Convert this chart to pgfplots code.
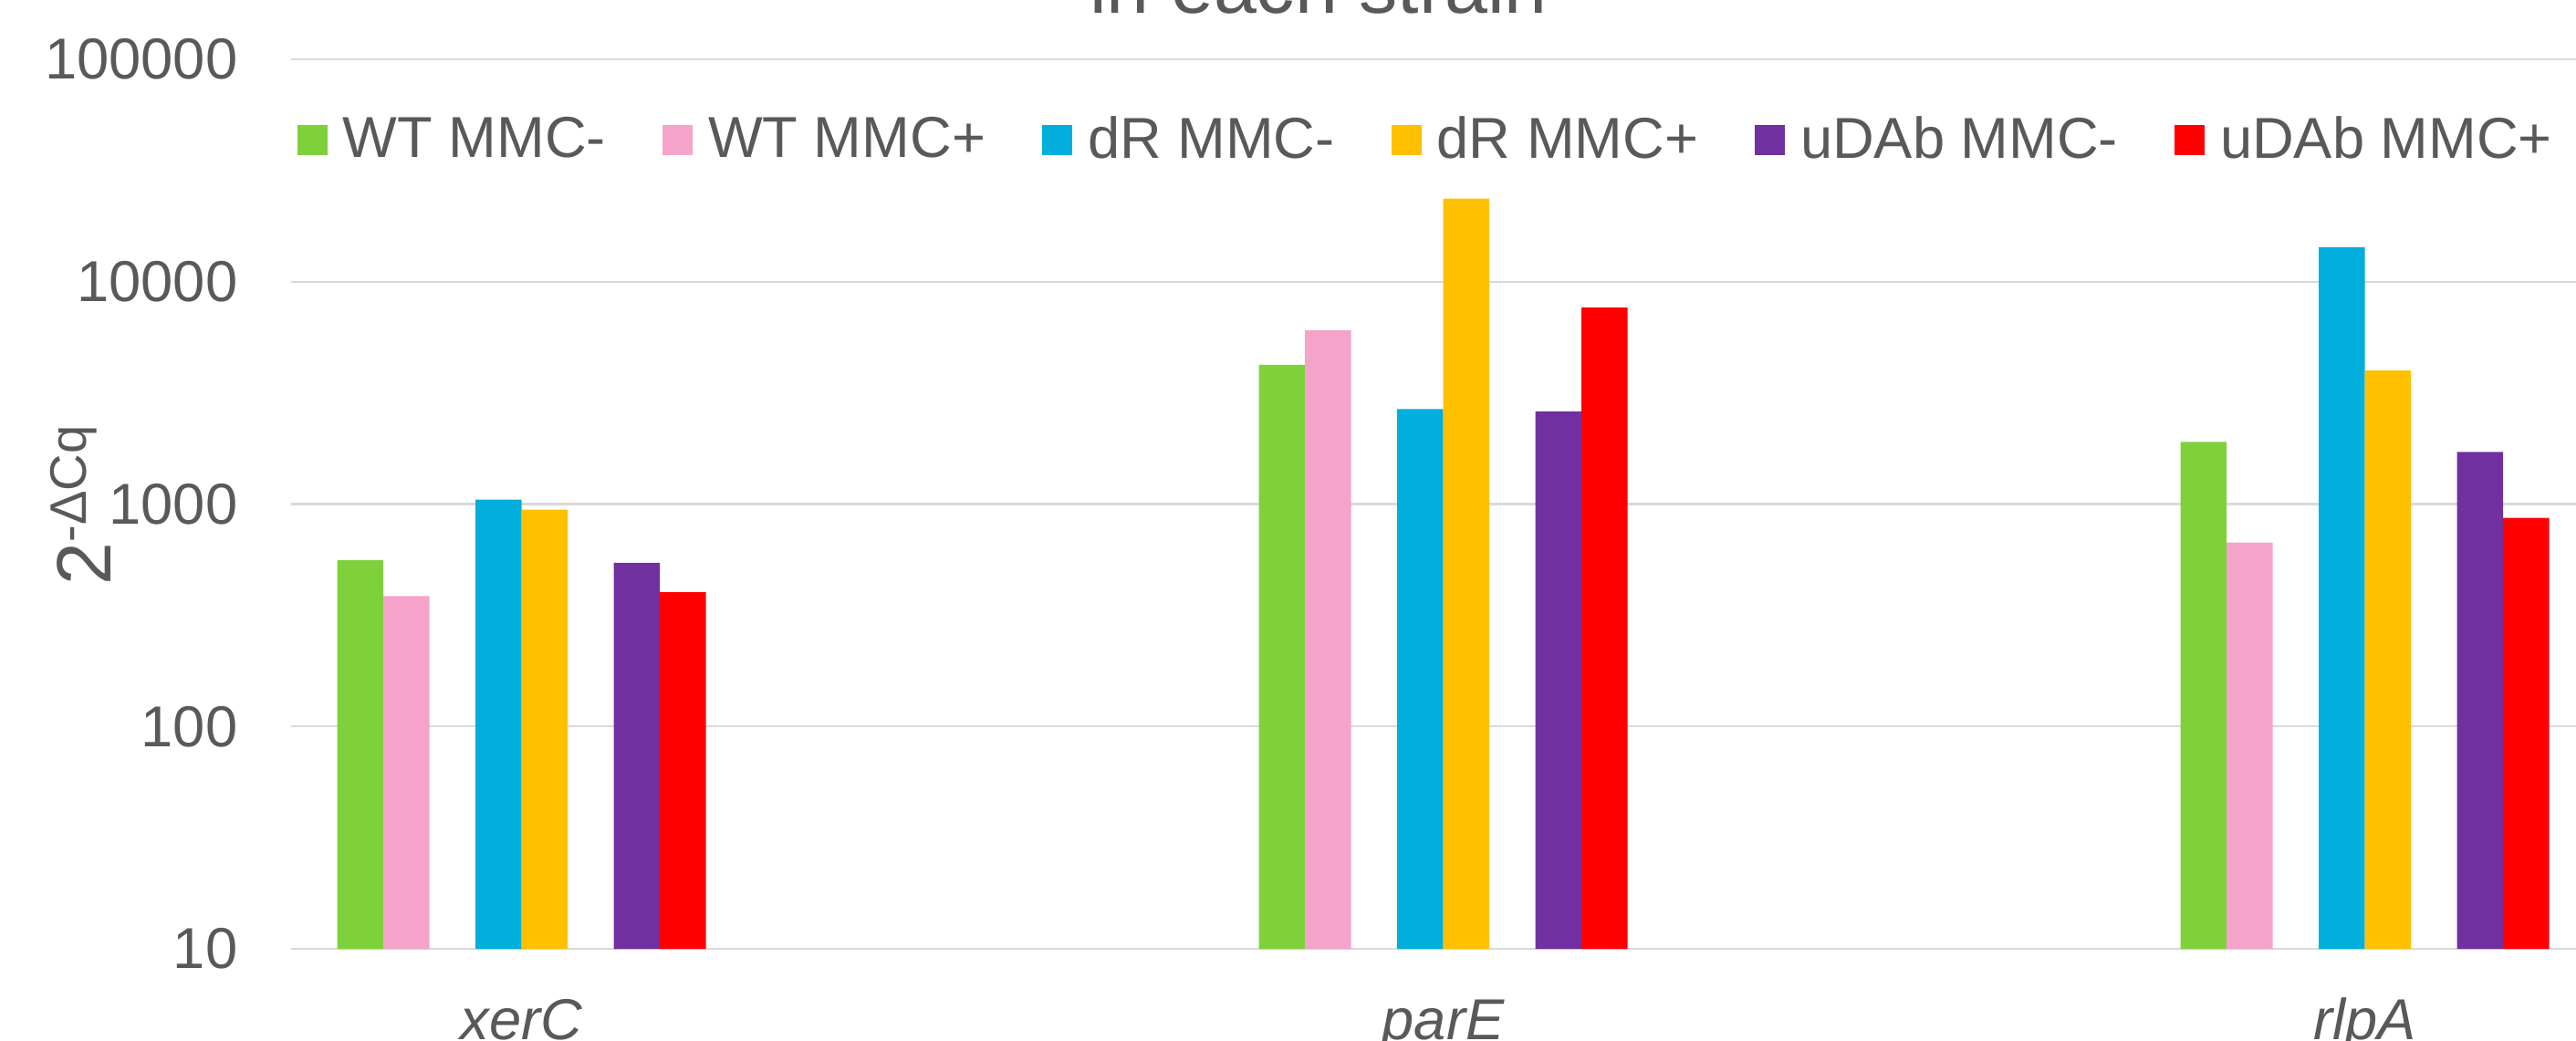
\documentclass[border=0pt]{standalone}
\usepackage{fontspec}
\setmainfont{Liberation Sans}
\usepackage{pgfplots}
\pgfplotsset{compat=1.18}
\definecolor{cGreen}{HTML}{7FD13B}
\definecolor{cPink}{HTML}{F5A3CB}
\definecolor{cBlue}{HTML}{02AEDC}
\definecolor{cYellow}{HTML}{FFC000}
\definecolor{cPurple}{HTML}{7030A0}
\definecolor{cRed}{HTML}{FF0000}
\definecolor{cText}{HTML}{595959}
\definecolor{cGrid}{HTML}{D9D9D9}
\begin{document}
\begin{tikzpicture}
\useasboundingbox (-3.19,-1.00) rectangle (25.04,10.40);
\begin{axis}[
  at={(0,0)}, anchor=south west,
  scale only axis, width=25.25cm, height=9.75cm,
  xmin=-0.25, xmax=2.25,
  ymode=log, ymin=10, ymax=100000,
  log origin=infty,
  ybar, bar width=0.05,
  ytick={10,100,1000,10000,100000},
  yticklabels={10,100,1000,10000,100000},
  xtick={0,1,2}, xticklabels={xerC,parE,rlpA},
  ymajorgrids, grid style={cGrid, line width=0.65pt},
  major tick length=0pt, tick style={draw=none},
  axis line style={draw=none},
  yticklabel style={font=\fontsize{18}{21}\selectfont, text=cText, anchor=east, inner sep=0pt, xshift=-0.58cm},
  xticklabel style={font=\fontsize{18}{21}\selectfont\itshape, text=cText, anchor=base, inner sep=0pt, yshift=-0.99cm},
  ylabel={\fontsize{24}{28}\selectfont 2\raisebox{0.27cm}{\fontsize{16}{19}\selectfont -ΔCq}},
  ylabel style={at={(axis description cs:-0.0784,0.4985)}, anchor=base, text=cText, inner sep=0pt},
  legend columns=6,
  legend style={at={(axis description cs:0,0.9097)}, anchor=west, xshift=0.07cm, draw=none, fill=none, inner sep=0pt, outer sep=0pt, column sep=0pt, font=\fontsize{18}{21}\selectfont, text=cText, nodes={inner sep=0pt}},
  legend cell align=left,
  legend image code/.code={\fill[#1] (0cm,-0.165cm) rectangle (0.33cm,0.165cm);},
]
\addplot[fill=cGreen, draw=none, bar shift=-0.175] coordinates {(0,559) (1,4225) (2,1901)};
\addlegendentry{\hspace{0.17cm}WT MMC-\kern0.62cm\null}
\addplot[fill=cPink, draw=none, bar shift=-0.125] coordinates {(0,386) (1,6050) (2,672)};
\addlegendentry{\hspace{0.17cm}WT MMC+\kern0.62cm\null}
\addplot[fill=cBlue, draw=none, bar shift=-0.025] coordinates {(0,1048) (1,2675) (2,14270)};
\addlegendentry{\hspace{0.17cm}dR MMC-\kern0.62cm\null}
\addplot[fill=cYellow, draw=none, bar shift=0.025] coordinates {(0,944) (1,23660) (2,3983)};
\addlegendentry{\hspace{0.17cm}dR MMC+\kern0.62cm\null}
\addplot[fill=cPurple, draw=none, bar shift=0.125] coordinates {(0,545) (1,2612) (2,1717)};
\addlegendentry{\hspace{0.17cm}uDAb MMC-\kern0.62cm\null}
\addplot[fill=cRed, draw=none, bar shift=0.175] coordinates {(0,401) (1,7648) (2,867)};
\addlegendentry{\hspace{0.17cm}uDAb MMC+}
\end{axis}
\node[anchor=base, font=\fontsize{24}{28}\selectfont, text=cText] at (11.26,10.25) {in each strain};
\end{tikzpicture}
\end{document}
